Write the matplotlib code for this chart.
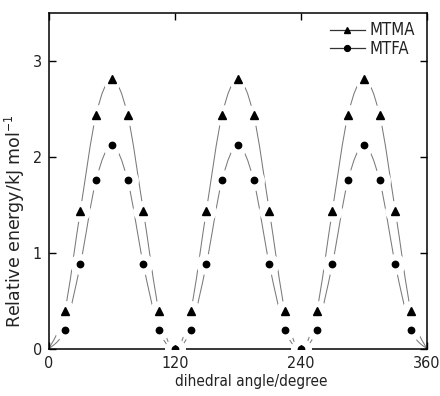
import matplotlib
matplotlib.use("Agg")
import matplotlib.pyplot as plt
import numpy as np
from matplotlib.path import Path
from matplotlib.patches import PathPatch

# dihedral scan, 15 degree steps
angle = [0, 15, 30, 45, 60, 75, 90, 105, 120, 135, 150, 165, 180, 195, 210,
         225, 240, 255, 270, 285, 300, 315, 330, 345, 360]
mtma = [0.0, 0.39, 1.44, 2.44, 2.81, 2.44, 1.44, 0.39, 0.0, 0.39, 1.44, 2.44, 2.81,
        2.44, 1.44, 0.39, 0.0, 0.39, 1.44, 2.44, 2.81, 2.44, 1.44, 0.39, 0.0]
mtfa = [0.0, 0.20, 0.88, 1.76, 2.12, 1.76, 0.88, 0.20, 0.0, 0.20, 0.88, 1.76, 2.12,
        1.76, 0.88, 0.20, 0.0, 0.20, 0.88, 1.76, 2.12, 1.76, 0.88, 0.20, 0.0]

xticks = [0, 120, 240, 360]
yticks = [0, 1, 2, 3]


def smooth_path(x, y):
    # catmull-rom style bezier through the points
    x = np.asarray(x, float)
    y = np.asarray(y, float)
    verts = [(x[0], y[0])]
    codes = [Path.MOVETO]
    n = len(x)
    for i in range(n - 1):
        x0, y0 = (x[i - 1], y[i - 1]) if i > 0 else (x[i], y[i])
        x3, y3 = (x[i + 2], y[i + 2]) if i + 2 < n else (x[i + 1], y[i + 1])
        c1 = (x[i] + (x[i + 1] - x0) / 6, y[i] + (y[i + 1] - y0) / 6)
        c2 = (x[i + 1] - (x3 - x[i]) / 6, y[i + 1] - (y3 - y[i]) / 6)
        verts += [c1, c2, (x[i + 1], y[i + 1])]
        codes += [Path.CURVE4] * 3
    return Path(verts, codes)


plt.rcParams['font.family'] = ['DejaVu Sans']
plt.rcParams['font.stretch'] = 'condensed'
fig = plt.figure(figsize=(4.4, 3.96), dpi=100)
ax = fig.add_axes([0.111, 0.119, 0.859, 0.848])

lc = '#7a7a7a'
ax.add_patch(PathPatch(smooth_path(angle, mtma), fill=False, edgecolor=lc, lw=0.75, zorder=1))
ax.add_patch(PathPatch(smooth_path(angle, mtfa), fill=False, edgecolor=lc, lw=0.75, zorder=1))

marks = list(range(1, len(angle) - 1))
# white halos make the gaps round the symbols
for ys in (mtma, mtfa):
    ax.plot(angle, ys, ls='none', marker='o', ms=14, mfc='white', mec='white',
            markevery=marks, zorder=3)
ax.plot(angle, mtma, ls='none', marker='^', ms=5.2, color='black', markevery=marks, zorder=4)
ax.plot(angle, mtfa, ls='none', marker='o', ms=4.6, color='black', markevery=marks, zorder=4)

# legend handles
h1, = ax.plot([], [], color='#333333', lw=0.9, marker='^', ms=4.5, mfc='black', mec='black')
h2, = ax.plot([], [], color='#333333', lw=0.9, marker='o', ms=4.2, mfc='black', mec='black')
ax.legend([h1, h2], ['MTMA', 'MTFA'], loc='upper right', frameon=False,
          fontsize=12, handlelength=2.1, handletextpad=0.3, labelspacing=0.05,
          borderaxespad=0.3, bbox_to_anchor=(1.0, 1.01), labelcolor='#222222')

ax.set_xlim(0, 360)
ax.set_ylim(0, 3.5)
ax.set_xticks(xticks)
ax.set_yticks(yticks)
ax.tick_params(direction='in', top=True, right=True, length=5, width=1,
               labelsize=11.5, labelcolor='#222222', pad=5)
ax.tick_params(labeltop=False, labelright=False)
for s in ax.spines.values():
    s.set_linewidth(1.1)

ax.set_xlabel('dihedral angle/degree', fontsize=11, color='#222222', labelpad=1)
ax.xaxis.set_label_coords(0.535, -0.075)
ax.set_ylabel('Relative energy/kJ mol$^{-1}$', fontsize=12.5, color='#222222',
              fontstretch='normal')
ax.yaxis.set_label_coords(-0.058, 0.38)

fig.savefig('out.png', dpi=100)
